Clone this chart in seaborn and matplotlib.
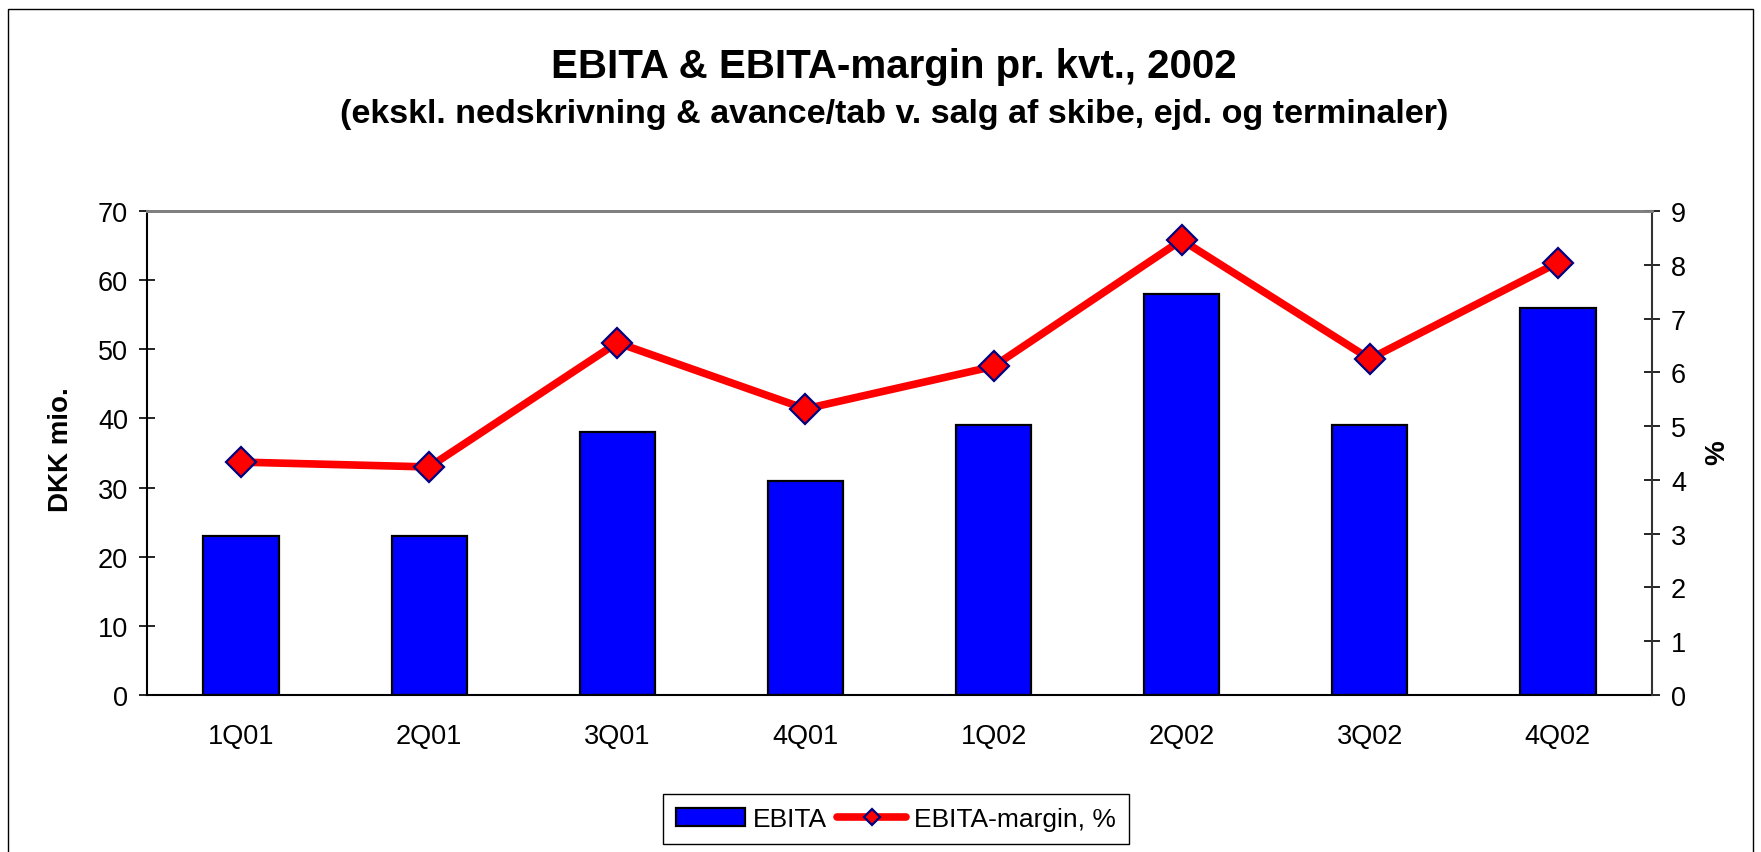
import numpy as np
import matplotlib
matplotlib.use("Agg")
from matplotlib import pyplot as plt
from matplotlib.patches import Patch, Rectangle
from matplotlib.lines import Line2D
import seaborn as sns

# Data
quarters = ["1Q01", "2Q01", "3Q01", "4Q01", "1Q02", "2Q02", "3Q02", "4Q02"]
ebita = [23, 23, 38, 31, 39, 58, 39, 56]
margin = [4.33, 4.24, 6.55, 5.32, 6.11, 8.46, 6.25, 8.04]

sns.set_style("white")
plt.rcParams['font.family'] = ['Liberation Sans', 'DejaVu Sans']
plt.rcParams['text.color'] = 'black'
plt.rcParams['axes.labelcolor'] = 'black'
plt.rcParams['xtick.color'] = 'black'
plt.rcParams['ytick.color'] = 'black'

fig = plt.figure(figsize=(17.61, 8.53), dpi=100)
ax = fig.add_axes([0.0835, 0.1841, 0.9381 - 0.0835, 0.7515 - 0.1841])

# Bars (left axis)
sns.barplot(x=quarters, y=ebita, color="#0000FF", saturation=1, width=0.4,
            edgecolor="black", linewidth=1.6, ax=ax)
ax.set_ylim(0, 70)
ax.set_yticks(range(0, 71, 10))
ax.set_xlim(-0.5, len(quarters) - 0.5)
ax.set_xlabel("")
ax.set_ylabel("")

# Line (right axis)
ax2 = ax.twinx()
x_pos = np.arange(len(quarters))
sns.lineplot(x=x_pos, y=margin, ax=ax2, color="#FF0000", linewidth=5.5,
             marker="D", markersize=15.5, markerfacecolor="#FF0000",
             markeredgecolor="#000080", markeredgewidth=1.6, sort=False, legend=False)
ax2.set_ylim(0, 9)
ax2.set_yticks(range(0, 10))
ax2.set_ylabel("")

# Spines
for s in ["left", "bottom"]:
    ax.spines[s].set_color("black")
    ax.spines[s].set_linewidth(1.5)
ax.spines["top"].set_color("#808080")
ax.spines["top"].set_linewidth(2)
ax.spines["right"].set_visible(False)
ax2.spines["right"].set_color("#333333")
ax2.spines["right"].set_linewidth(1.5)
ax2.spines["top"].set_color("#808080")
ax2.spines["top"].set_linewidth(2)
ax2.spines["left"].set_visible(False)
ax2.spines["bottom"].set_visible(False)

# Ticks
ax.tick_params(axis="y", direction="inout", length=11.5, width=1.2, colors="black",
               labelsize=19.5, pad=8)
ax2.tick_params(axis="y", direction="inout", length=11.5, width=1.2, colors="black",
                labelsize=19.5, pad=8)
ax.set_xticks(x_pos)
ax.set_xticklabels(quarters)
ax.tick_params(axis="x", which="major", length=0, labelsize=19.5, pad=20, labelcolor="black")
ax.set_xticks(np.arange(0.5, len(quarters) - 1, 1.0), minor=True)
ax.tick_params(axis="x", which="minor", direction="inout", length=11, width=1.2, color="black")

# Axis titles
fig.text(61 / 1761, 1 - 450 / 853, "DKK mio.", rotation=90, ha="center", va="center",
         fontsize=20, fontweight="bold", color="black")
fig.text(1717 / 1761, 1 - 453 / 853, "%", rotation=90, ha="center", va="center",
         fontsize=20, fontweight="bold", color="black")

# Titles
fig.text(0.5077, 1 - 78 / 853, "EBITA & EBITA-margin pr. kvt., 2002",
         ha="center", va="baseline", fontsize=29, fontweight="bold", color="black")
fig.text(0.5077, 1 - 123 / 853,
         "(ekskl. nedskrivning & avance/tab v. salg af skibe, ejd. og terminaler)",
         ha="center", va="baseline", fontsize=24.5, fontweight="bold", color="black")

# Legend
handles = [
    Patch(facecolor="#0000FF", edgecolor="black", linewidth=1.6),
    Line2D([], [], color="#FF0000", linewidth=5.5, marker="D", markersize=8,
           markerfacecolor="#FF0000", markeredgecolor="#000080", markeredgewidth=1.6),
]
leg = fig.legend(handles, ["EBITA", "EBITA-margin, %"], loc="center",
                 bbox_to_anchor=(896 / 1761, 1 - 820 / 853), ncol=2, fontsize=19,
                 frameon=True, fancybox=False, edgecolor="black", framealpha=1,
                 handlelength=2.6, handletextpad=0.3, columnspacing=0.4,
                 borderpad=0.5)
leg.get_frame().set_linewidth(1.0)

# Outer chart border
fig.add_artist(Rectangle((8 / 1761, -0.01), (1753 - 8) / 1761, (853 - 10) / 853 + 0.01,
                         transform=fig.transFigure, fill=False, edgecolor="black",
                         linewidth=1.0))

fig.savefig("out.png", dpi=100)
